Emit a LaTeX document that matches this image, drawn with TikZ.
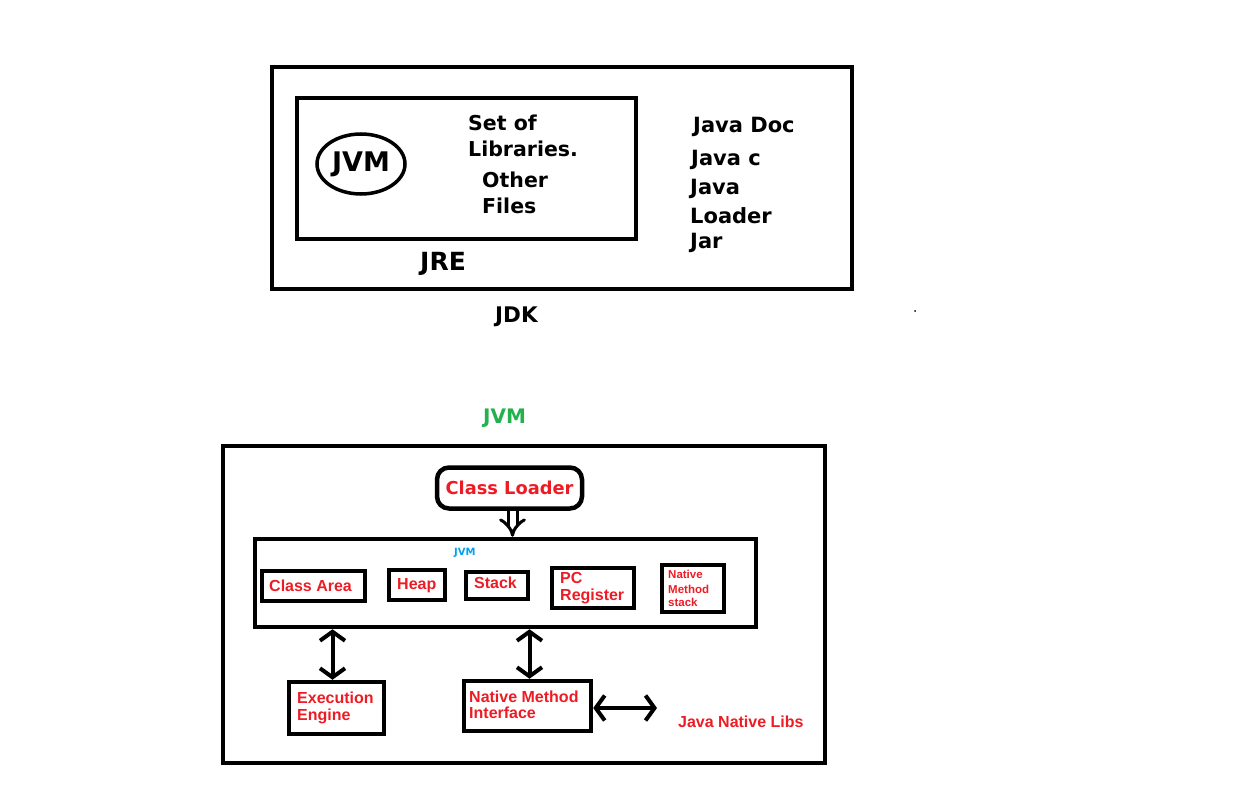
\documentclass[tikz,border=0pt]{standalone}
\usepackage{fontspec}
\setmainfont{DejaVu Sans}
\newfontfamily\paintfont{Liberation Sans}
\usetikzlibrary{arrows.meta,shapes.geometric}
\definecolor{paintred}{RGB}{237,28,36}
\definecolor{paintgreen}{RGB}{34,177,76}
\definecolor{paintblue}{RGB}{0,162,232}
\tikzset{boxline/.style={draw=black, line width=4.5pt, inner sep=0pt},
  bigtxt/.style={font=\bfseries\fontsize{#1}{#1}\selectfont, inner sep=0pt, anchor=base west},
  redtxt/.style={text=paintred, font=\paintfont\bfseries\fontsize{#1}{#1}\selectfont, inner sep=0pt, anchor=base west},
  biarrow/.style={line width=4pt, {Straight Barb[length=9pt,width=25pt]}-{Straight Barb[length=9pt,width=25pt]}}}

\begin{document}
\begin{tikzpicture}[x=1pt,y=-1pt]
\useasboundingbox (0,0) rectangle (1259,797);

% JDK with JRE inside
\node[boxline, minimum width=580pt, minimum height=222pt] (jdk) at (562,178) {};
\node[boxline, minimum width=339pt, minimum height=141pt] (jre) at (466.5,168.5) {};
\node[draw, ellipse, line width=3.5pt, minimum width=88pt, minimum height=60pt, inner sep=0pt,
      font=\bfseries\fontsize{27}{27}\selectfont] (jvmcore) at (361,164) {JVM};

\node[bigtxt=20.5] (setof) at (468,131) {Set of};
\node[bigtxt=20.5] (libs) at (468,157) {Libraries.};
\node[bigtxt=20.5] (other) at (482,187) {Other};
\node[bigtxt=20.5] (files) at (482,213) {Files};

\node[bigtxt=21] (javadoc) at (693,133) {Java Doc};
\node[bigtxt=21] (javac) at (691,166) {Java c};
\node[bigtxt=21] (java) at (690,195) {Java};
\node[bigtxt=21] (loaderline) at (690,223) {Loader};
\node[bigtxt=21] (jar) at (690,248) {Jar};

\node[bigtxt=25] (jretxt) at (420,270) {JRE};
\node[bigtxt=21.5] (jdktxt) at (495,322) {JDK};
\fill (915,311) circle (1pt);

% JVM
\node[bigtxt=20, text=paintgreen] (jvmtitle) at (483,423) {JVM};
\node[boxline, minimum width=602pt, minimum height=317pt] (jvmbox) at (524,604.5) {};
\node[boxline, rounded corners=12pt, minimum width=145pt, minimum height=41pt, text=paintred,
      font=\bfseries\fontsize{17.8}{18}\selectfont] (loader) at (509.5,488) {Class Loader};
\node[boxline, minimum width=501pt, minimum height=88pt] (runtime) at (505.5,583) {};
\node[bigtxt=10, text=paintblue] (jvmsmall) at (454,555) {JVM};

\node[boxline, minimum width=103pt, minimum height=30pt] (area) at (313.5,586) {};
\node[redtxt=16] (areatxt) at (269,591) {Class Area};
\node[boxline, minimum width=56pt, minimum height=30pt] (heap) at (417,585) {};
\node[redtxt=16] (heaptxt) at (397,589) {Heap};
\node[boxline, minimum width=62pt, minimum height=27pt] (stack) at (497,585.5) {};
\node[redtxt=16] (stacktxt) at (474,588) {Stack};
\node[boxline, minimum width=82pt, minimum height=40pt] (pcreg) at (593,588) {};
\node[redtxt=16] (pctxt) at (560,583) {PC};
\node[redtxt=16] (regtxt) at (560,600) {Register};
\node[boxline, minimum width=62pt, minimum height=47pt] (nstack) at (693,588.5) {};
\node[redtxt=11.5] (ns1) at (668,578) {Native};
\node[redtxt=11.5] (ns2) at (668,593) {Method};
\node[redtxt=11.5] (ns3) at (668,606) {stack};

\node[boxline, minimum width=95pt, minimum height=52pt] (exec) at (336.5,708) {};
\node[redtxt=16] (exec1) at (297,703) {Execution};
\node[redtxt=16] (exec2) at (297,720) {Engine};
\node[boxline, minimum width=127pt, minimum height=50pt] (nmi) at (527.5,706) {};
\node[redtxt=16] (nmi1) at (469,702) {Native Method};
\node[redtxt=16] (nmi2) at (469,718) {Interface};
\node[redtxt=16] (nlibs) at (678,727) {Java Native Libs};
\coordinate (libsend) at (657,708);

\draw[line width=3pt, double, double distance=6pt, -{Implies[length=14pt,width=20pt]}]
  ([xshift=3pt]loader.south) -- ([xshift=3pt]loader.south |- runtime.north);
\draw[biarrow] ([xshift=-4pt]exec.north |- runtime.south) -- ([xshift=-4pt]exec.north);
\draw[biarrow] ([xshift=2pt]nmi.north |- runtime.south) -- ([xshift=2pt]nmi.north);
\draw[biarrow] (nmi.east |- libsend) -- (libsend);
\end{tikzpicture}
\end{document}
